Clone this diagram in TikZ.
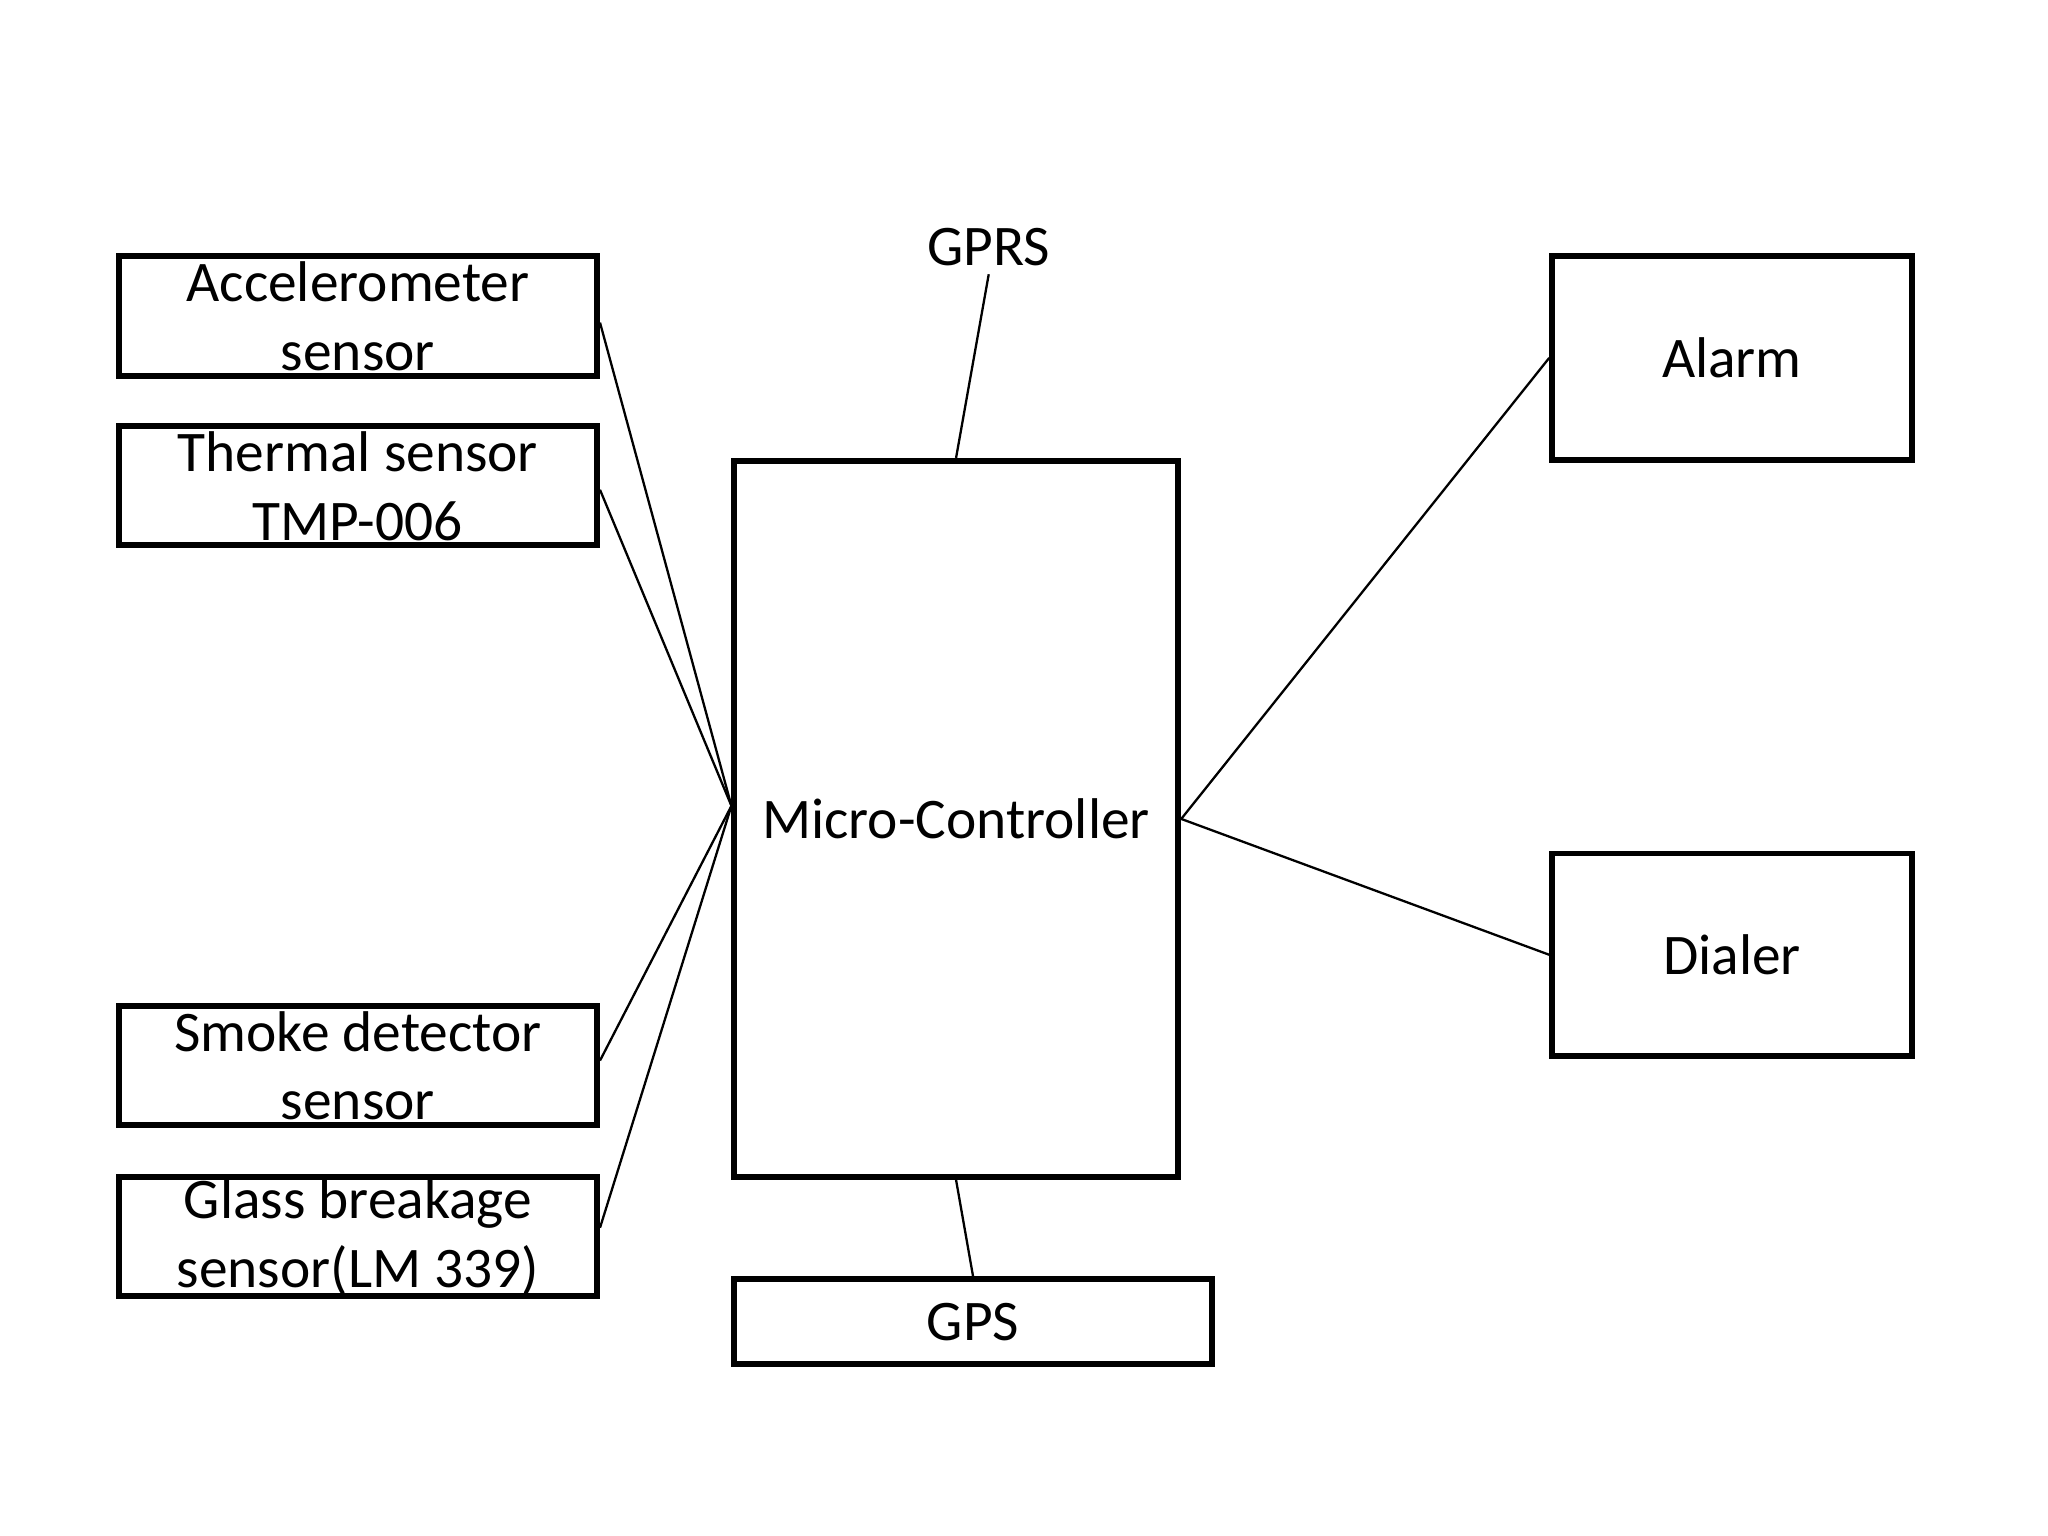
\documentclass[tikz,border=0pt]{standalone}
\usepackage{fontspec}
\setmainfont{Carlito}
\begin{document}
\begin{tikzpicture}[x=0.01cm, y=-0.01cm,
  block/.style={rectangle, draw, line width=1.3pt, align=center,
    font=\fontsize{12.5}{15}\selectfont, inner sep=0pt},
  wire/.style={line width=0.5pt}]

\useasboundingbox (0,0) rectangle (1568,1176);

\node[block, minimum width=3.66cm, minimum height=0.92cm] (accel) at (274,242) {Accelerometer\\sensor};
\node[block, minimum width=3.66cm, minimum height=0.91cm] (thermal) at (274,372) {Thermal sensor\\TMP-006};
\node[block, minimum width=3.66cm, minimum height=0.91cm] (smoke) at (274,816) {Smoke detector\\sensor};
\node[block, minimum width=3.66cm, minimum height=0.91cm] (glass) at (274,947) {Glass breakage\\sensor(LM 339)};
\node[block, minimum width=3.40cm, minimum height=5.48cm] (mc) at (732,627) {Micro-Controller};
\node[block, minimum width=3.66cm, minimum height=0.65cm] (gps) at (745,1012) {GPS};
\node[block, minimum width=2.75cm, minimum height=1.56cm] (alarm) at (1326,274) {Alarm};
\node[block, minimum width=2.75cm, minimum height=1.55cm] (dialer) at (1326,731) {Dialer};
\node[font=\fontsize{12.5}{15}\selectfont] (gprs) at (757,189) {GPRS};

\coordinate (hub) at (560,617);
\coordinate (gprsend) at (757,210);

% sensors to controller
\draw[wire] (accel.east) ++(0,5) -- (hub);
\draw[wire] (thermal.east) ++(0,3) -- (hub);
\draw[wire] (smoke.east) ++(0,-4) -- (hub);
\draw[wire] (glass.east) ++(0,-7) -- (hub);

% outputs
\draw[wire] (mc.east) -- (alarm.west);
\draw[wire] (mc.east) -- (dialer.west);
\draw[wire] (gprsend) -- (mc.north);
\draw[wire] (mc.south) -- (gps.north);

\end{tikzpicture}
\end{document}
